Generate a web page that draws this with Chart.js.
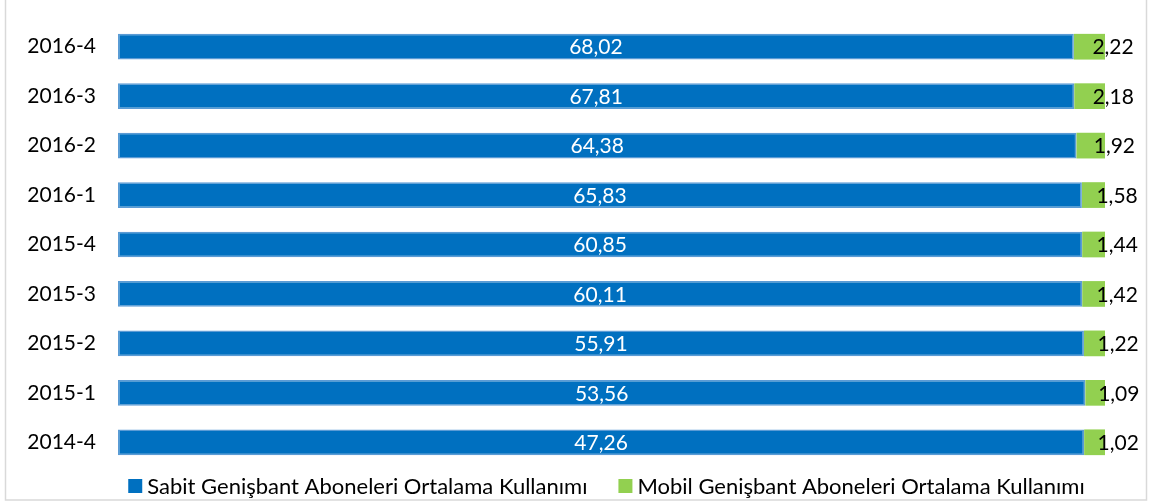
<!DOCTYPE html>
<html>
<head>
<meta charset="utf-8">
<script src="https://cdn.jsdelivr.net/npm/chart.js@4/dist/chart.umd.min.js"></script>
<style>
  html, body { margin: 0; padding: 0; background: #fff; }
  #wrap { width: 1150px; height: 504px; position: relative; }
</style>
</head>
<body>
<div id="wrap"><canvas id="myChart"></canvas></div>
<script>
const periods = ["2016-4", "2016-3", "2016-2", "2016-1", "2015-4", "2015-3", "2015-2", "2015-1", "2014-4"];
const sabitValues = [68.02, 67.81, 64.38, 65.83, 60.85, 60.11, 55.91, 53.56, 47.26];
const mobilValues = [2.22, 2.18, 1.92, 1.58, 1.44, 1.42, 1.22, 1.09, 1.02];

const FONT = "Lato, 'Open Sans', sans-serif";
const fmt = (v) => v.toFixed(2).replace(".", ",");

// 100% stacked: share of each series in the period total
const share = (a, b) => a.map((v, i) => (v / (v + b[i])) * 100);

// Draw the raw values on top of the segments
const valueLabels = {
  id: "valueLabels",
  afterDatasetsDraw(chart) {
    const { ctx } = chart;
    ctx.save();
    ctx.font = "21px " + FONT;
    ctx.textBaseline = "middle";
    chart.getDatasetMeta(0).data.forEach((bar, i) => {
      ctx.fillStyle = "#ffffff";
      ctx.textAlign = "center";
      ctx.fillText(fmt(sabitValues[i]), (bar.base + bar.x) / 2, bar.y + 1);
    });
    chart.getDatasetMeta(1).data.forEach((bar, i) => {
      ctx.fillStyle = "#000000";
      ctx.textAlign = "left";
      ctx.fillText(fmt(mobilValues[i]), (bar.base + bar.x) / 2 + 3, bar.y + 1);
    });
    ctx.restore();
  },
};

// compact legend under the bars (box close to the text, like the original)
const bottomLegend = {
  id: "bottomLegend",
  afterDraw(chart) {
    const { ctx, chartArea } = chart;
    const box = 14, gap = 5, between = 31;
    ctx.save();
    ctx.font = "22px " + FONT;
    ctx.textBaseline = "middle";
    ctx.textAlign = "left";
    const items = chart.data.datasets.map((d) => ({
      text: d.label, color: d.backgroundColor, w: ctx.measureText(d.label).width,
    }));
    const total = items.reduce((s, it) => s + box + gap + it.w, 0) + between * (items.length - 1);
    let x = (chartArea.left + chartArea.right) / 2 - total / 2 - 5;
    const y = 486;
    items.forEach((it) => {
      ctx.fillStyle = it.color;
      ctx.fillRect(x, y - box / 2, box, box);
      ctx.fillStyle = "#000";
      ctx.fillText(it.text, x + box + gap, y + 1);
      x += box + gap + it.w + between;
    });
    ctx.restore();
  },
};

// light grey frame around the chart
const frame = {
  id: "frame",
  afterDraw(chart) {
    const { ctx } = chart;
    ctx.save();
    ctx.strokeStyle = "#d9d9d9";
    ctx.lineWidth = 1.5;
    ctx.strokeRect(5.5, -2, 1141, 502);
    ctx.restore();
  },
};

new Chart(document.getElementById("myChart"), {
  type: "bar",
  data: {
    labels: periods,
    datasets: [
      {
        label: "Sabit Genişbant Aboneleri Ortalama Kullanımı",
        data: share(sabitValues, mobilValues),
        backgroundColor: "#0070C0",
        borderColor: "#5B9BD5",
        borderWidth: 1.5,
        borderSkipped: false,
      },
      {
        label: "Mobil Genişbant Aboneleri Ortalama Kullanımı",
        data: share(mobilValues, sabitValues),
        backgroundColor: "#92D050",
        borderWidth: 0,
      },
    ],
  },
  options: {
    indexAxis: "y",
    responsive: true,
    maintainAspectRatio: false,
    animation: false,
    layout: { padding: { left: 6, right: 45, top: 22, bottom: 37 } },
    datasets: {
      bar: { categoryPercentage: 1, barPercentage: 0.52 },
    },
    scales: {
      x: { stacked: true, min: 0, max: 100, display: false },
      y: {
        stacked: true,
        grid: { display: false },
        border: { display: false },
        ticks: { color: "#000", font: { family: FONT, size: 21 }, padding: 14 },
        afterFit: (s) => {
          s.width = 112;
          s.paddingTop = 0;
          s.paddingBottom = 0;
        },
      },
    },
    plugins: {
      tooltip: { enabled: false },
      legend: { display: false },
    },
  },
  plugins: [valueLabels, bottomLegend, frame],
});
</script>
</body>
</html>
